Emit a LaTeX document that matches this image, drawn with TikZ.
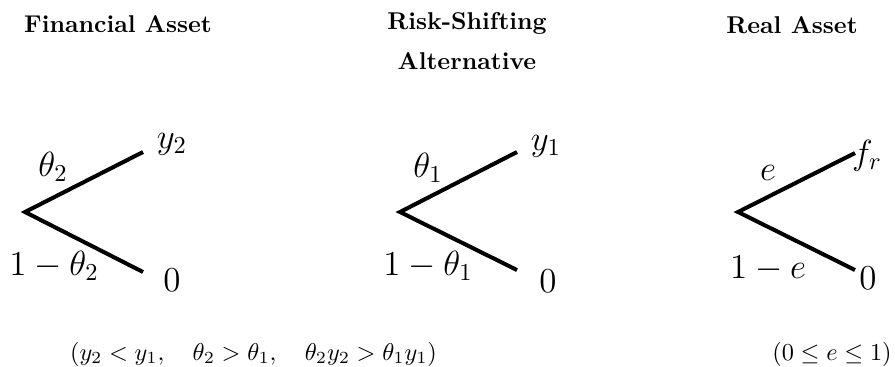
\documentclass[tikz,border=0pt]{standalone}
\begin{document}
\begin{tikzpicture}[x=0.4115pt,y=-0.4115pt,
  branch/.style={line width=1.65pt,line join=miter},
  ttl/.style={inner sep=0pt,font=\fontsize{10}{16.5}\selectfont\bfseries,align=center},
  lbl/.style={inner sep=0pt,anchor=base,font=\fontsize{14.4}{17}\selectfont},
  cond/.style={inner sep=0pt,anchor=base,font=\fontsize{10}{12}\selectfont}]
\useasboundingbox (0,0) rectangle (895,366);
% titles
\node[ttl,anchor=base] (t1) at (118,32) {Financial Asset};
\node[ttl] (t2) at (467,41.5) {Risk-Shifting\\Alternative};
\node[ttl,anchor=base] (t3) at (792,33) {Real Asset};
% tree 1
\coordinate (r1) at (25,212);
\coordinate (u1) at (143,152);
\coordinate (d1) at (143,272);
\draw[branch] (u1) -- (r1) -- (d1);
\node[lbl] (p1) at (53,176) {$\theta_2$};
\node[lbl] (q1) at (54,275) {$1-\theta_2$};
\node[lbl] (h1) at (172,148) {$y_2$};
\node[lbl] (l1) at (172,291) {$0$};
% tree 2
\coordinate (r2) at (400,212);
\coordinate (u2) at (517,152);
\coordinate (d2) at (517,270);
\draw[branch] (u2) -- (r2) -- (d2);
\node[lbl] (p2) at (428,177) {$\theta_1$};
\node[lbl] (q2) at (428,275) {$1-\theta_1$};
\node[lbl] (h2) at (546,150) {$y_1$};
\node[lbl] (l2) at (548,292) {$0$};
% tree 3
\coordinate (r3) at (738,212);
\coordinate (u3) at (855,153);
\coordinate (d3) at (855,270);
\draw[branch] (u3) -- (r3) -- (d3);
\node[lbl] (p3) at (768,180) {$e$};
\node[lbl] (q3) at (768,278) {$1-e$};
\node[lbl] (h3) at (867,164) {$f_r$};
\node[lbl] (l3) at (868,289) {$0$};
% conditions
\node[cond] (c1) at (253.5,360) {$(y_2<y_1,\quad \theta_2>\theta_1,\quad \theta_2y_2>\theta_1y_1)$};
\node[cond] (c2) at (832,360) {$(0\le e\le 1)$};
\end{tikzpicture}
\end{document}
